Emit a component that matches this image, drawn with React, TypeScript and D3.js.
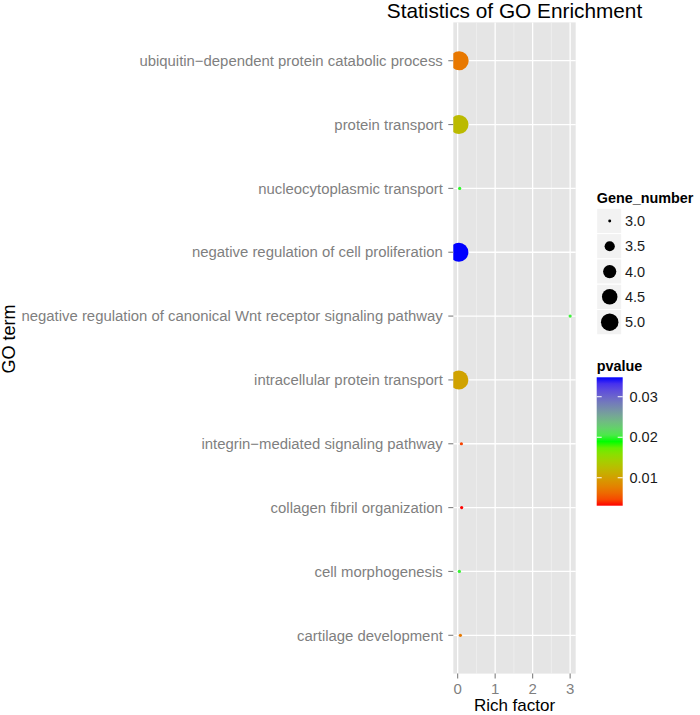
import React from 'react';
import * as d3 from 'd3';

const terms = [
  "ubiquitin−dependent protein catabolic process",
  "protein transport",
  "nucleocytoplasmic transport",
  "negative regulation of cell proliferation",
  "negative regulation of canonical Wnt receptor signaling pathway",
  "intracellular protein transport",
  "integrin−mediated signaling pathway",
  "collagen fibril organization",
  "cell morphogenesis",
  "cartilage development",
];
const richFactor = [0.04, 0.035, 0.054, 0.032, 3.0, 0.032, 0.1, 0.107, 0.045, 0.072];
const geneNumber = [5, 5, 3, 5, 3, 5, 3, 3, 3, 3];
const pvalue = [0.0071, 0.0123, 0.0195, 0.0348, 0.02, 0.0102, 0.0044, 0.0031, 0.0198, 0.0072];
const xTicks = [0, 1, 2, 3];
const xMinor = [0.5, 1.5, 2.5];
const sizeBreaks = [3.0, 3.5, 4.0, 4.5, 5.0];
const pBreaks = [0.01, 0.02, 0.03];

const W = 700, H = 715;
const panel = { left: 453.3, right: 575.7, top: 22.4, bottom: 673.6 };
const FONT = "'Liberation Sans', Arial, sans-serif";

export default function App() {
  const xMin = d3.min(richFactor)!, xMax = d3.max(richFactor)!;
  const span = xMax - xMin;
  const x = d3.scaleLinear().domain([xMin - 0.05 * span, xMax + 0.05 * span]).range([panel.left, panel.right]);
  const y = d3.scalePoint<string>().domain(terms).range([panel.top, panel.bottom]).padding(0.6);

  const gMin = d3.min(geneNumber)!, gMax = d3.max(geneNumber)!;
  const sizeT = d3.scaleLinear().domain([gMin, gMax]).range([0, 1]);
  const rLin = d3.scaleLinear().domain([0, 1]).range([1.6, 9.5]);
  const r = (v: number) => rLin(Math.sqrt(Math.max(0, sizeT(v))));

  const pMin = d3.min(pvalue)!, pMax = d3.max(pvalue)!;
  const color = d3.scaleLinear<string>()
    .domain([pMin, (pMin + pMax) / 2, pMax])
    .range(["#ff0000", "#00ff00", "#0000ff"])
    .interpolate(d3.interpolateLab);

  const sLeg = { x: 596.7, top: 208.3, keyW: 25, keyH: 25.3 };
  const cb = { x: 596.7, w: 26, top: 377.3, bottom: 505.7 };
  const cbScale = d3.scaleLinear().domain([pMin, pMax]).range([cb.bottom, cb.top]);
  const stops = d3.range(0, 21).map(i => i / 20);

  const cx = (panel.left + panel.right) / 2;

  return (
    <svg width={W} height={H} style={{ position: 'absolute', left: 0, top: 0, background: '#fff' }} fontFamily={FONT}>
      <defs>
        <clipPath id="panelClip">
          <rect x={panel.left} y={panel.top} width={panel.right - panel.left} height={panel.bottom - panel.top} />
        </clipPath>
        <linearGradient id="pgrad" x1="0" y1="1" x2="0" y2="0">
          {stops.map(t => (
            <stop key={t} offset={t} stopColor={color(pMin + t * (pMax - pMin))} />
          ))}
        </linearGradient>
      </defs>

      <rect x={panel.left} y={panel.top} width={panel.right - panel.left} height={panel.bottom - panel.top} fill="#e5e5e5" />
      {xMinor.map(v => (
        <line key={'mn' + v} x1={x(v)} x2={x(v)} y1={panel.top} y2={panel.bottom} stroke="#f2f2f2" strokeWidth={0.7} />
      ))}
      {xTicks.map(v => (
        <line key={'mj' + v} x1={x(v)} x2={x(v)} y1={panel.top} y2={panel.bottom} stroke="#ffffff" strokeWidth={1.3} />
      ))}
      {terms.map(t => (
        <line key={'h' + t} x1={panel.left} x2={panel.right} y1={y(t)} y2={y(t)} stroke="#ffffff" strokeWidth={1.3} />
      ))}

      <g clipPath="url(#panelClip)">
        {terms.map((t, i) => (
          <circle key={'p' + t} cx={x(richFactor[i])} cy={y(t)!} r={r(geneNumber[i])} fill={color(pvalue[i])} />
        ))}
      </g>

      {terms.map(t => (
        <g key={'yl' + t}>
          <line x1={panel.left - 5} x2={panel.left} y1={y(t)} y2={y(t)} stroke="#7f7f7f" strokeWidth={1.1} />
          <text x={panel.left - 10.5} y={y(t)} dy="0.35em" textAnchor="end" fontSize={14.9} fill="#7f7f7f">{t}</text>
        </g>
      ))}

      {xTicks.map(v => (
        <g key={'xl' + v}>
          <line x1={x(v)} x2={x(v)} y1={panel.bottom} y2={panel.bottom + 5} stroke="#7f7f7f" strokeWidth={1.1} />
          <text x={x(v)} y={694.3} textAnchor="middle" fontSize={15} fill="#7f7f7f">{v}</text>
        </g>
      ))}

      <text x={cx} y={17.5} textAnchor="middle" fontSize={20.8} fill="#000">Statistics of GO Enrichment</text>
      <text x={cx} y={711} textAnchor="middle" fontSize={17} fill="#000">Rich factor</text>
      <text transform={`translate(15,339) rotate(-90)`} textAnchor="middle" fontSize={18} fill="#000">GO term</text>

      <text x={sLeg.x} y={203} fontSize={14.4} fontWeight="bold" fill="#000">Gene_number</text>
      {sizeBreaks.map((v, i) => {
        const ky = sLeg.top + i * sLeg.keyH;
        return (
          <g key={'sl' + v}>
            <rect x={sLeg.x} y={ky} width={sLeg.keyW} height={sLeg.keyH} fill="#f2f2f2" stroke="#ffffff" strokeWidth={1} />
            <circle cx={sLeg.x + sLeg.keyW / 2 + 0.5} cy={ky + sLeg.keyH / 2} r={r(v) * 0.92} fill="#000" />
            <text x={625} y={ky + sLeg.keyH / 2} dy="0.35em" fontSize={14.5} fill="#1a1a1a">{v.toFixed(1)}</text>
          </g>
        );
      })}

      <text x={cb.x} y={371} fontSize={14.4} fontWeight="bold" fill="#000">pvalue</text>
      <rect x={cb.x} y={cb.top} width={cb.w} height={cb.bottom - cb.top} fill="url(#pgrad)" />
      {pBreaks.map(v => (
        <g key={'cb' + v}>
          <line x1={cb.x} x2={cb.x + 5} y1={cbScale(v)} y2={cbScale(v)} stroke="#ffffff" strokeWidth={1} />
          <line x1={cb.x + cb.w - 5} x2={cb.x + cb.w} y1={cbScale(v)} y2={cbScale(v)} stroke="#ffffff" strokeWidth={1} />
          <text x={629.5} y={cbScale(v)} dy="0.35em" fontSize={14.5} fill="#1a1a1a">{v.toFixed(2)}</text>
        </g>
      ))}
    </svg>
  );
}
